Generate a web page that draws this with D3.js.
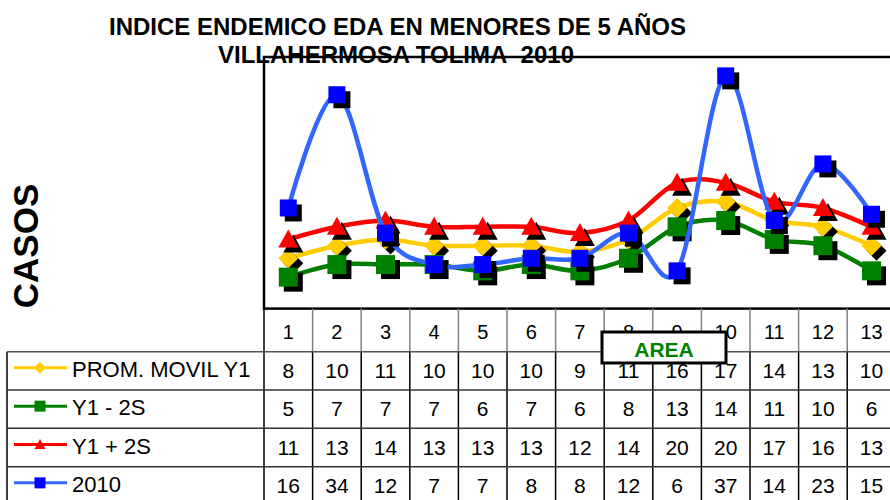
<!DOCTYPE html>
<html>
<head>
<meta charset="utf-8">
<script src="https://d3js.org/d3.v7.min.js"></script>
<style>
  body { margin: 0; background: #fff; }
  svg { display: block; font-family: "Liberation Sans", Arial, sans-serif; }
</style>
</head>
<body>
<div id="chart"></div>
<script>
// chart data
var categories = [1, 2, 3, 4, 5, 6, 7, 8, 9, 10, 11, 12, 13];
var promMovil = [8, 10, 11, 10, 10, 10, 9, 11, 16, 17, 14, 13, 10];
var menos2S = [5, 7, 7, 7, 6, 7, 6, 8, 13, 14, 11, 10, 6];
var mas2S = [11, 13, 14, 13, 13, 13, 12, 14, 20, 20, 17, 16, 13];
var casos2010 = [16, 34, 12, 7, 7, 8, 8, 12, 6, 37, 14, 23, 15];
var seriesNames = ["PROM. MOVIL Y1", "Y1 - 2S", "Y1 + 2S", "2010"];

var width = 890, height = 500;
var plot = {left: 264, top: 57, bottom: 308.6};
var colW = 48.6;
var rowY = [308.6, 351.7, 390, 428.3, 466.7, 505];

var series = [
  {name: seriesNames[0], values: promMovil, line: "#FFCC00", fill: "#FFCC00", shape: "diamond", size: 20},
  {name: seriesNames[1], values: menos2S, line: "#008000", fill: "#008000", shape: "square", size: 19},
  {name: seriesNames[2], values: mas2S, line: "#FF0000", fill: "#FF0000", shape: "triangle", size: 20},
  {name: seriesNames[3], values: casos2010, line: "#3366FF", fill: "#0000FF", shape: "square", size: 17}
];

var svg = d3.select("#chart").append("svg")
  .attr("width", width)
  .attr("height", height);

var x = d3.scaleBand()
  .domain(categories)
  .range([plot.left, plot.left + colW * categories.length]);

var y = d3.scaleLinear()
  .domain([0, 40])
  .range([plot.bottom, plot.top]);

// title
svg.append("text")
  .attr("x", 109).attr("y", 35)
  .attr("textLength", 577).attr("lengthAdjust", "spacingAndGlyphs")
  .style("font-size", "23px").style("font-weight", "bold")
  .text("INDICE ENDEMICO EDA EN MENORES DE 5 AÑOS");
svg.append("text")
  .attr("x", 218).attr("y", 63)
  .attr("textLength", 356).attr("lengthAdjust", "spacingAndGlyphs")
  .style("font-size", "23px").style("font-weight", "bold")
  .text("VILLAHERMOSA TOLIMA\u00A0 2010");

// y label
svg.append("text")
  .attr("transform", "translate(38,246) rotate(-90)")
  .attr("text-anchor", "middle")
  .style("font-size", "35px").style("font-weight", "bold")
  .text("CASOS");

// plot frame
svg.append("rect")
  .attr("x", plot.left).attr("y", plot.top)
  .attr("width", colW * categories.length)
  .attr("height", plot.bottom - plot.top)
  .attr("fill", "none")
  .attr("stroke", "#000")
  .attr("stroke-width", 2.5);

// marker shapes centred on 0,0
function shapePath(s, sz) {
  var h = sz / 2;
  if (s.shape === "square") return "M" + (-h) + "," + (-h) + "h" + sz + "v" + sz + "h" + (-sz) + "Z";
  if (s.shape === "diamond") return "M0," + (-h) + "L" + h + ",0L0," + h + "L" + (-h) + ",0Z";
  return "M0," + (-h) + "L" + h + "," + (h * 0.8) + "L" + (-h) + "," + (h * 0.8) + "Z";
}

var line = d3.line()
  .x(function(d, i) { return x(categories[i]) + x.bandwidth() / 2; })
  .y(function(d) { return y(d); })
  .curve(d3.curveCardinal.tension(0));

series.forEach(function(s) {
  var g = svg.append("g");
  g.append("path")
    .attr("d", line(s.values))
    .attr("fill", "none")
    .attr("stroke", s.line)
    .attr("stroke-width", 4.5);
  // marker shadows
  g.selectAll(".shadow").data(s.values).enter().append("path")
    .attr("class", "shadow")
    .attr("d", shapePath(s, s.size))
    .attr("transform", function(d, i) { return "translate(" + (x(categories[i]) + x.bandwidth() / 2 + 5) + "," + (y(d) + 5) + ")"; })
    .attr("fill", "#000");
  g.selectAll(".mark").data(s.values).enter().append("path")
    .attr("class", "mark")
    .attr("d", shapePath(s, s.size))
    .attr("transform", function(d, i) { return "translate(" + (x(categories[i]) + x.bandwidth() / 2) + "," + y(d) + ")"; })
    .attr("fill", s.fill);
});

// data table
var tbl = svg.append("g");
categories.forEach(function(c) {
  tbl.append("line")
    .attr("x1", x(c) + colW).attr("x2", x(c) + colW)
    .attr("y1", rowY[0]).attr("y2", rowY[1])
    .attr("stroke", "#808080").attr("stroke-width", 1.5);
  tbl.append("line")
    .attr("x1", x(c) + colW).attr("x2", x(c) + colW)
    .attr("y1", rowY[1]).attr("y2", rowY[5])
    .attr("stroke", "#000").attr("stroke-width", 1.5);
  tbl.append("text")
    .attr("x", x(c) + colW / 2).attr("y", 339)
    .attr("text-anchor", "middle")
    .style("font-size", "20px")
    .text(c);
});
tbl.append("line")
  .attr("x1", plot.left).attr("x2", plot.left)
  .attr("y1", rowY[0]).attr("y2", rowY[5])
  .attr("stroke", "#000").attr("stroke-width", 1.5);
tbl.append("line")
  .attr("x1", 7).attr("x2", 7)
  .attr("y1", rowY[1]).attr("y2", rowY[5])
  .attr("stroke", "#000").attr("stroke-width", 1.5);
[1, 2, 3, 4].forEach(function(r) {
  tbl.append("line")
    .attr("x1", 7).attr("x2", width)
    .attr("y1", rowY[r]).attr("y2", rowY[r])
    .attr("stroke", r === 1 ? "#555" : "#333").attr("stroke-width", 1.5);
});

series.forEach(function(s, r) {
  var yMid = (rowY[r + 1] + rowY[r + 2]) / 2;
  // legend key
  tbl.append("line")
    .attr("x1", 14).attr("x2", 67)
    .attr("y1", yMid - 3).attr("y2", yMid - 3)
    .attr("stroke", s.line).attr("stroke-width", 3);
  tbl.append("path")
    .attr("d", shapePath(s, s.shape === "diamond" ? 12 : 11))
    .attr("transform", "translate(40," + (yMid - 3) + ")")
    .attr("fill", s.fill);
  tbl.append("text")
    .attr("x", 72).attr("y", yMid + 6)
    .style("font-size", "22px")
    .text(s.name);
  s.values.forEach(function(v, i) {
    tbl.append("text")
      .attr("x", x(categories[i]) + colW / 2).attr("y", yMid + 7)
      .attr("text-anchor", "middle")
      .style("font-size", "21px")
      .text(v);
  });
});

// AREA box
svg.append("rect")
  .attr("x", 602).attr("y", 332)
  .attr("width", 124).attr("height", 31)
  .attr("fill", "#fff")
  .attr("stroke", "#000").attr("stroke-width", 3);
svg.append("text")
  .attr("x", 664).attr("y", 357)
  .attr("text-anchor", "middle")
  .style("font-size", "21px").style("font-weight", "bold")
  .attr("fill", "#008000")
  .text("AREA");
</script>
</body>
</html>
